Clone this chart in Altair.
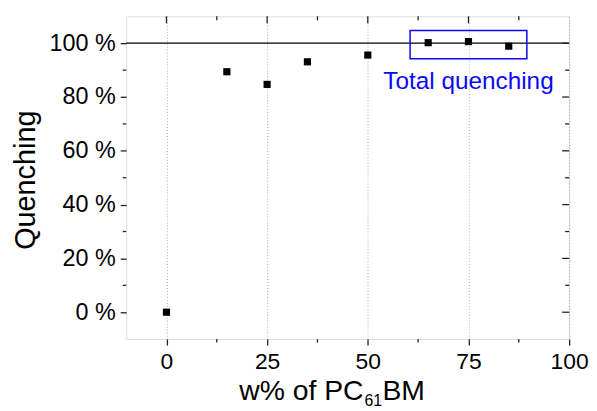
import altair as alt
import pandas as pd

# ---- data ----
w_pcbm = [0, 15, 25, 35, 50, 65, 75, 85]
quenching = [0, 89.4, 84.7, 93.1, 95.6, 100.2, 100.6, 98.9]
x_major = [0, 25, 50, 75, 100]
x_minor = [12.5, 37.5, 62.5, 87.5]
y_major = [0, 20, 40, 60, 80, 100]
y_minor = [10, 30, 50, 70, 90]
ref_level = [100]
box_x = [60.5]
box_x2 = [89.5]
box_y = [94.2]
box_y2 = [104.7]
box_label = ["Total quenching"]
box_label_x = [75]
box_label_y = [82.8]

W, H = 446, 325
FONT = "Liberation Sans"
BLUE = "#0a0af5"
INK = "#222222"

xs = alt.Scale(domain=[-10, 100], nice=False, zero=False)
ys = alt.Scale(domain=[-10, 110], nice=False, zero=False)

pts = pd.DataFrame({"x": w_pcbm, "y": quenching})

points = alt.Chart(pts).mark_point(
    shape="square", filled=True, color="black", size=52, opacity=1
).encode(
    x=alt.X("x:Q", scale=xs, axis=alt.Axis(
        values=x_major, title=None, grid=True, gridDash=[1, 2], gridColor="#aaaaaa",
        gridWidth=1, domain=False, ticks=True, tickSize=6, tickColor=INK, tickWidth=1.3,
        labelFontSize=23, labelFont=FONT, labelColor="black", labelPadding=6,
        labelFlush=False)),
    y=alt.Y("y:Q", scale=ys, axis=alt.Axis(
        values=y_major, labelExpr="datum.value + ' %'", grid=False, domain=False,
        ticks=True, tickSize=6, tickColor=INK, tickWidth=1.3,
        labelFontSize=23.5, labelFont=FONT, labelColor="black", labelPadding=5,
        title="Quenching", titleFont=FONT, titleFontSize=29, titleFontWeight="normal",
        titleColor="black", titleAngle=270, titleX=-92, titleY=H / 2 + 2,
        titleAlign="center", titleBaseline="alphabetic", labelFlush=False)),
)

ref = alt.Chart(pd.DataFrame({"y": ref_level})).mark_rule(
    color="black", strokeWidth=1.3
).encode(y=alt.Y("y:Q", scale=ys))

box = alt.Chart(pd.DataFrame({"x": box_x, "x2": box_x2, "y": box_y, "y2": box_y2})).mark_rect(
    fill=None, filled=False, stroke=BLUE, strokeWidth=1.5
).encode(
    x=alt.X("x:Q", scale=xs), x2="x2:Q",
    y=alt.Y("y:Q", scale=ys), y2="y2:Q",
)

label = alt.Chart(pd.DataFrame({"x": box_label_x, "y": box_label_y, "t": box_label})).mark_text(
    color=BLUE, font=FONT, fontSize=24.5, align="center", baseline="alphabetic"
).encode(x=alt.X("x:Q", scale=xs), y=alt.Y("y:Q", scale=ys), text="t:N")

# minor / mirrored ticks
def vticks(vals, y0, y1):
    return alt.Chart(pd.DataFrame({"x": vals})).mark_rule(color=INK, strokeWidth=1.3).encode(
        x=alt.X("x:Q", scale=xs), y=alt.value(y0), y2=alt.value(y1))

def hticks(vals, x0, x1):
    return alt.Chart(pd.DataFrame({"y": vals})).mark_rule(color=INK, strokeWidth=1.3).encode(
        y=alt.Y("y:Q", scale=ys), x=alt.value(x0), x2=alt.value(x1))

ticks = [
    vticks(x_minor, H, H + 3.5),
    vticks(x_major[:-1], 0, 7),
    vticks(x_minor, 0, 4),
    hticks(y_minor, 0, -3.5),
    hticks(y_major, W, W - 7),
    hticks(y_minor, W, W - 4),
]

one = pd.DataFrame({"a": [0]})
xt1 = alt.Chart(one).mark_text(text="w% of PC", font=FONT, fontSize=28.5, align="right",
                               baseline="alphabetic", color="black").encode(
    x=alt.value(239), y=alt.value(H + 61.5))
xt2 = alt.Chart(one).mark_text(text="61", font=FONT, fontSize=16, align="left",
                               baseline="alphabetic", color="black").encode(
    x=alt.value(240), y=alt.value(H + 67.3))
xt3 = alt.Chart(one).mark_text(text="BM", font=FONT, fontSize=28.5, align="left",
                               baseline="alphabetic", color="black").encode(
    x=alt.value(258), y=alt.value(H + 61.5))

chart = alt.layer(points, ref, box, label, *ticks, xt1, xt2, xt3).properties(
    width=W, height=H,
    autosize=alt.AutoSizeParams(type="none"),
    padding={"left": 119, "top": 7, "right": 20, "bottom": 71},
).configure_view(stroke=INK, strokeWidth=1.5).configure(background="white")

chart.save("out.html", embed_options={"renderer": "svg", "actions": False})
